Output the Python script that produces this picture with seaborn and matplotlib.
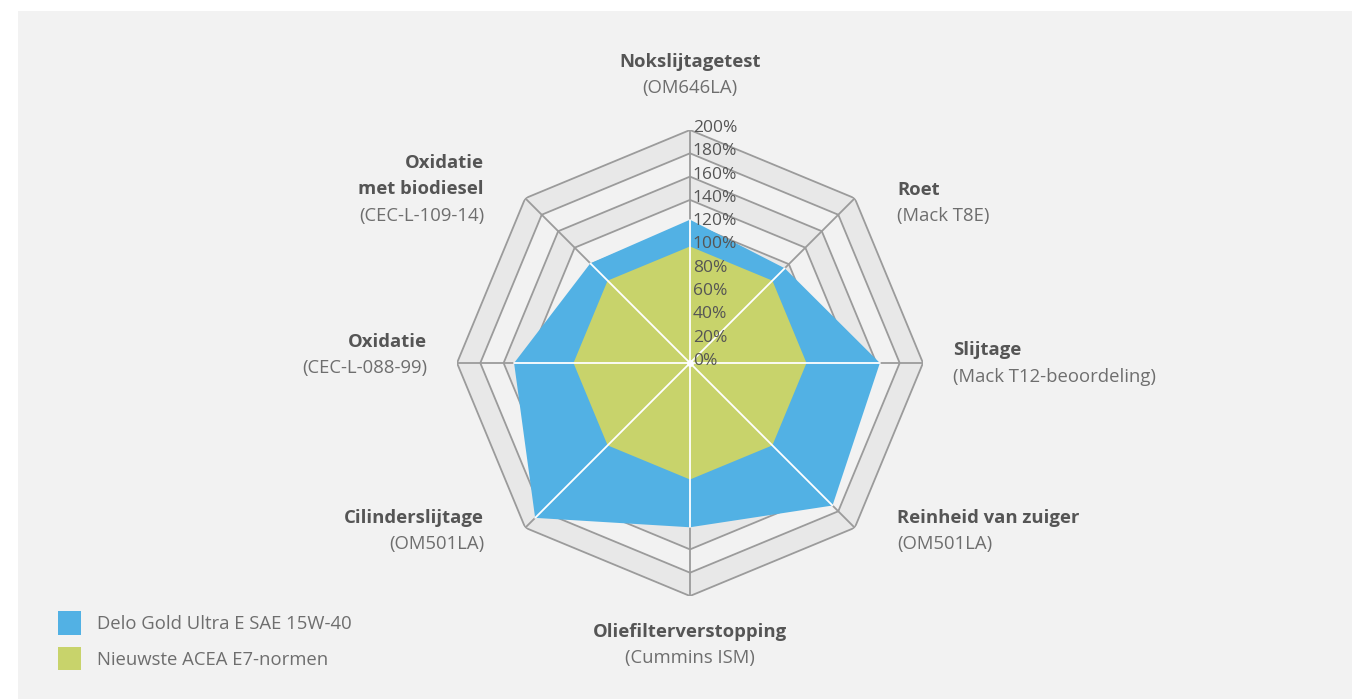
import matplotlib
matplotlib.use("Agg")
import matplotlib.pyplot as plt
import numpy as np
import seaborn as sns

# axes, clockwise from the top
AXIS_TITLES = [
    "Nokslijtagetest",
    "Roet",
    "Slijtage",
    "Reinheid van zuiger",
    "Oliefilterverstopping",
    "Cilinderslijtage",
    "Oxidatie",
    "Oxidatie\nmet biodiesel",
]
AXIS_TESTS = [
    "(OM646LA)",
    "(Mack T8E)",
    "(Mack T12-beoordeling)",
    "(OM501LA)",
    "(Cummins ISM)",
    "(OM501LA)",
    "(CEC-L-088-99)",
    "(CEC-L-109-14)",
]
delo_gold = [123, 115, 163, 173, 141, 188, 151, 121]
acea_e7 = [100, 100, 100, 100, 100, 100, 100, 100]
SERIES_NAMES = ["Delo Gold Ultra E SAE 15W-40", "Nieuwste ACEA E7-normen"]
R_TICKS = list(range(0, 201, 20))

BLUE = "#52b1e4"
GREEN = "#c8d36b"
BG = "#f2f2f2"
BAND = "#e8e8e8"
GRID = "#9b9b9b"
DARK = "#555555"
MID = "#6e6e6e"

W, H = 1352, 699
CX, CY, R = 690, 363, 233

sns.set_theme(style="white")
plt.rcParams["font.family"] = ["Open Sans", "DejaVu Sans"]

fig = plt.figure(figsize=(W / 100, H / 100), dpi=100, facecolor="white")
fig.patches.append(plt.Rectangle((18 / W, 0), 1 - 18 / W, 1 - 11 / H, transform=fig.transFigure,
                                 facecolor=BG, edgecolor="none", zorder=-5))

ax = fig.add_axes([(CX - R) / W, (H - CY - R) / H, 2 * R / W, 2 * R / H], projection="polar")
ax.set_facecolor("none")
ax.set_theta_zero_location("N")
ax.set_theta_direction(-1)
ax.set_ylim(0, 200)
ax.grid(False)
ax.spines["polar"].set_visible(False)
ax.set_xticks([])
ax.set_yticks([])

n = len(AXIS_TITLES)
theta = np.arange(n) * 2 * np.pi / n
theta_c = np.append(theta, theta[0])

# alternating bands, largest first
for i, r in enumerate(R_TICKS[:0:-1]):
    ax.fill(theta_c, [r] * (n + 1), color=BAND if i % 2 == 0 else BG, zorder=1, lw=0)
for r in R_TICKS[1:]:
    ax.plot(theta_c, [r] * (n + 1), color=GRID, lw=1.3, zorder=2)
for t in theta:
    ax.plot([t, t], [0, 200], color=GRID, lw=1.3, zorder=2)

fills = []
for vals, col, name in [(delo_gold, BLUE, SERIES_NAMES[0]), (acea_e7, GREEN, SERIES_NAMES[1])]:
    f = ax.fill(theta_c, vals + vals[:1], color=col, lw=0, zorder=3, label=name)
    fills.append(f[0])

for t, v in zip(theta, delo_gold):
    ax.plot([t, t], [0, v], color="white", lw=1.3, zorder=4)
ax.plot([0], [0], "o", color="white", ms=4, zorder=5)

for r in R_TICKS:
    ax.annotate(f"{r}%", xy=(0, r), xytext=(2, 1.5), textcoords="offset points",
                ha="left", va="center", fontsize=12.5, color=DARK, zorder=6, annotation_clip=False)

# axis labels, pixel anchors of the first line
labels_pos = [
    (690, 62, "center"),
    (897, 190, "left"),
    (953, 350, "left"),
    (897, 518, "left"),
    (690, 632, "center"),
    (484, 518, "right"),
    (427, 342, "right"),
    (484, 163, "right"),
]
LINE = 26.5
for title, test, (x, y, ha) in zip(AXIS_TITLES, AXIS_TESTS, labels_pos):
    lines = title.split("\n")
    for k, line in enumerate(lines):
        fig.text(x / W, 1 - (y + k * LINE) / H, line, ha=ha, va="center",
                 fontsize=13.3, fontweight="bold", color=DARK)
    fig.text(x / W, 1 - (y + len(lines) * LINE) / H, test, ha=ha, va="center",
             fontsize=13.3, color=MID)

fig.legend(handles=fills, labels=SERIES_NAMES, loc="upper left",
           bbox_to_anchor=(58 / W, 1 - 611 / H), frameon=False, fontsize=13.3,
           handlelength=1.25, handleheight=1.6, handletextpad=0.85, labelspacing=0.65,
           borderpad=0, borderaxespad=0, labelcolor=MID)

fig.savefig("out.png", dpi=100, facecolor="white")
